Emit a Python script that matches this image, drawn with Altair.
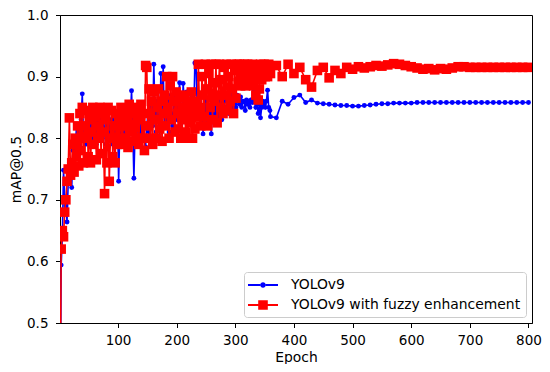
import altair as alt
import pandas as pd

series_names = ["YOLOv9", "YOLOv9 with fuzzy enhancement"]

epochs_dense = list(range(1, 360, 2))
epochs_sparse = list(range(360, 801, 10))

yolo_dense = [
    0.30, 0.594, 0.64, 0.748, 0.705, 0.69, 0.664, 0.73, 0.76, 0.75,
    0.72, 0.78, 0.80, 0.77, 0.82, 0.79, 0.81, 0.78, 0.83, 0.872,
    0.80, 0.82, 0.79, 0.84, 0.81, 0.83, 0.79, 0.82, 0.80, 0.84,
    0.81, 0.79, 0.83, 0.80, 0.82, 0.84, 0.80, 0.834, 0.81, 0.79,
    0.82, 0.84, 0.80, 0.83, 0.81, 0.79, 0.83, 0.80, 0.82, 0.84,
    0.73, 0.82, 0.80, 0.84, 0.81, 0.83, 0.80, 0.82, 0.84, 0.81,
    0.83, 0.877, 0.82, 0.735, 0.81, 0.84, 0.82, 0.80, 0.83, 0.81,
    0.84, 0.82, 0.80, 0.786, 0.82, 0.84, 0.81, 0.85, 0.83, 0.82,
    0.92, 0.84, 0.81, 0.86, 0.83, 0.80, 0.905, 0.84, 0.916, 0.82,
    0.85, 0.83, 0.87, 0.81, 0.86, 0.84, 0.82, 0.87, 0.84, 0.86,
    0.83, 0.87, 0.89, 0.85, 0.80, 0.889, 0.86, 0.84, 0.875, 0.83,
    0.86, 0.84, 0.87, 0.85, 0.83, 0.922, 0.919, 0.85, 0.84, 0.87,
    0.83, 0.85, 0.807, 0.84, 0.86, 0.83, 0.85, 0.82, 0.84, 0.807,
    0.85, 0.83, 0.86, 0.84, 0.85, 0.83, 0.86, 0.84, 0.83, 0.86,
    0.85, 0.84, 0.86, 0.85, 0.84, 0.86, 0.85, 0.87, 0.85, 0.86,
    0.85, 0.87, 0.86, 0.855, 0.867, 0.85, 0.86, 0.859, 0.845, 0.862,
    0.855, 0.86, 0.85, 0.862, 0.858, 0.919, 0.86, 0.85, 0.855, 0.84,
    0.855, 0.833, 0.85, 0.86, 0.855, 0.85, 0.86, 0.878, 0.85, 0.845,
]
yolo_sparse = [
    0.835, 0.833, 0.86, 0.855, 0.866, 0.87, 0.858, 0.862, 0.857, 0.856,
    0.855, 0.854, 0.853, 0.853, 0.852, 0.852, 0.853, 0.854, 0.855, 0.856,
    0.856, 0.857, 0.857, 0.857, 0.857, 0.858, 0.858, 0.858, 0.858, 0.858,
    0.858, 0.858, 0.858, 0.858, 0.858, 0.858, 0.858, 0.858, 0.858, 0.858,
    0.858, 0.858, 0.858, 0.858, 0.858,
]

fuzzy_dense = [
    0.30, 0.62, 0.65, 0.64, 0.68, 0.70, 0.73, 0.75, 0.833, 0.74,
    0.76, 0.79, 0.745, 0.80, 0.77, 0.82, 0.755, 0.84, 0.78, 0.85,
    0.76, 0.82, 0.80, 0.845, 0.77, 0.83, 0.76, 0.81, 0.85, 0.79,
    0.835, 0.765, 0.82, 0.80, 0.85, 0.775, 0.84, 0.81, 0.71, 0.83,
    0.76, 0.85, 0.73, 0.80, 0.845, 0.77, 0.82, 0.76, 0.84, 0.79,
    0.83, 0.80, 0.85, 0.79, 0.82, 0.845, 0.80, 0.835, 0.785, 0.855,
    0.81, 0.84, 0.795, 0.85, 0.82, 0.80, 0.845, 0.79, 0.83, 0.855,
    0.80, 0.84, 0.78, 0.918, 0.915, 0.82, 0.88, 0.80, 0.86, 0.79,
    0.875, 0.83, 0.80, 0.85, 0.88, 0.815, 0.86, 0.795, 0.84, 0.87,
    0.82, 0.90, 0.85, 0.80, 0.885, 0.83, 0.90, 0.86, 0.81, 0.875,
    0.84, 0.815, 0.865, 0.80, 0.85, 0.83, 0.87, 0.81, 0.845, 0.80,
    0.86, 0.825, 0.875, 0.80, 0.85, 0.815, 0.86, 0.835, 0.92, 0.85,
    0.82, 0.90, 0.87, 0.835, 0.92, 0.88, 0.82, 0.905, 0.85, 0.92,
    0.83, 0.89, 0.86, 0.92, 0.825, 0.87, 0.92, 0.85, 0.895, 0.84,
    0.915, 0.87, 0.92, 0.845, 0.90, 0.86, 0.92, 0.88, 0.84, 0.91,
    0.865, 0.92, 0.89, 0.92, 0.885, 0.91, 0.895, 0.92, 0.885, 0.905,
    0.92, 0.89, 0.915, 0.90, 0.92, 0.885, 0.91, 0.87, 0.90, 0.862,
    0.88, 0.92, 0.895, 0.91, 0.92, 0.90, 0.915, 0.90, 0.92, 0.91,
]
fuzzy_sparse = [
    0.905, 0.918, 0.90, 0.92, 0.905, 0.915, 0.895, 0.883, 0.91, 0.915,
    0.898, 0.91, 0.905, 0.915, 0.912, 0.916, 0.914, 0.916, 0.918, 0.917,
    0.919, 0.921, 0.92, 0.918, 0.916, 0.914, 0.912, 0.913, 0.911, 0.913,
    0.912, 0.914, 0.916, 0.916, 0.915, 0.915, 0.915, 0.915, 0.915, 0.915,
    0.915, 0.915, 0.915, 0.915, 0.915,
]

x_ticks = [100, 200, 300, 400, 500, 600, 700, 800]
y_ticks = [0.5, 0.6, 0.7, 0.8, 0.9, 1.0]

df_b = pd.DataFrame({"epoch": epochs_dense + epochs_sparse,
                     "map": yolo_dense + yolo_sparse,
                     "series": series_names[0]})
df_r = pd.DataFrame({"epoch": epochs_dense + epochs_sparse,
                     "map": fuzzy_dense + fuzzy_sparse,
                     "series": series_names[1]})
legend_df = pd.DataFrame({"series": series_names})

FONT = "DejaVu Sans"
FS = 13.9
TICK_FS = 13.5

x_enc = alt.X("epoch:Q",
              scale=alt.Scale(domain=[1, 806], nice=False, zero=False),
              axis=alt.Axis(values=x_ticks, title="Epoch", grid=False))
y_enc = alt.Y("map:Q",
              scale=alt.Scale(domain=[0.5, 1.0], nice=False, zero=False),
              axis=alt.Axis(values=y_ticks, format=".1f", title="mAP@0.5", grid=False))

blue_line = alt.Chart(df_b).mark_line(color="#0000ff", strokeWidth=1.6, clip=True).encode(x=x_enc, y=y_enc)
blue_pts = alt.Chart(df_b).mark_point(shape="circle", filled=True, size=24, color="#0000ff",
                                      opacity=1, clip=True).encode(x=x_enc, y=y_enc)
red_line = alt.Chart(df_r).mark_line(color="#ff0000", strokeWidth=1.6, clip=True).encode(x=x_enc, y=y_enc)
red_pts = alt.Chart(df_r).mark_point(shape="square", filled=True, size=92, color="#ff0000",
                                     opacity=1, clip=True).encode(x=x_enc, y=y_enc)

path_b = ("M-1.875,-0.11H-0.35V0.11H-1.875Z M0.35,-0.11H1.875V0.11H0.35Z "
          "M-0.35,0A0.35,0.35 0 1,0 0.35,0A0.35,0.35 0 1,0 -0.35,0Z")
path_r = ("M-1.875,-0.11H-0.6V0.11H-1.875Z M0.6,-0.11H1.875V0.11H0.6Z "
          "M-0.6,-0.6H0.6V0.6H-0.6Z")

leg = dict(title=None, orient="bottom-right", offset=6, fillColor="white",
           strokeColor="#cccccc", cornerRadius=3, padding=5,
           labelFont=FONT, labelFontSize=FS, labelColor="black", labelLimit=0,
           symbolSize=256, symbolOpacity=1, symbolStrokeWidth=0,
           symbolOffset=6, labelOffset=20, rowPadding=5)

legend_layer = alt.Chart(legend_df).mark_point(filled=True, opacity=0, size=10).encode(
    color=alt.Color("series:N", scale=alt.Scale(domain=series_names, range=["#0000ff", "#ff0000"]),
                    legend=alt.Legend(**leg)),
    shape=alt.Shape("series:N", scale=alt.Scale(domain=series_names, range=[path_b, path_r]),
                    legend=alt.Legend(**leg)),
)

chart = alt.layer(blue_line, blue_pts, red_line, red_pts, legend_layer).properties(
    width=472, height=308,
    autosize=alt.AutoSizeParams(type="none"),
    padding={"left": 52, "top": 7, "right": 10, "bottom": 41},
).configure_view(stroke="black", strokeWidth=1).configure_axis(
    labelFont=FONT, labelFontSize=TICK_FS, labelColor="black",
    titleFont=FONT, titleFontSize=FS, titleColor="black", titleFontWeight="normal",
    domainColor="black", tickColor="black", tickSize=4.5,
).configure_axisX(labelPadding=5.5, titlePadding=3.5).configure_axisY(labelPadding=7.5, titlePadding=3.5)

chart.save("out.html", embed_options={"renderer": "svg", "actions": False})
